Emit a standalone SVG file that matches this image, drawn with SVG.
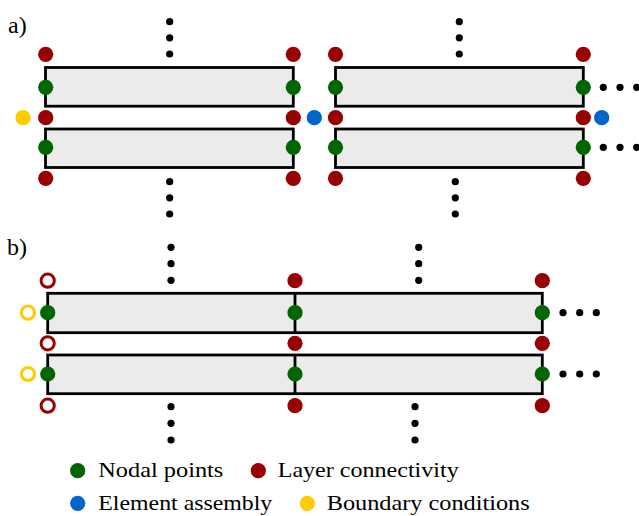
<svg xmlns="http://www.w3.org/2000/svg" width="639" height="516" viewBox="0 0 639 516">
<defs>
<style>
.el{fill:#ebebeb;stroke:#000;stroke-width:2.8}
.dv{fill:none;stroke:#000;stroke-width:2.8}
.g{fill:#006600}
.r{fill:#990000}
.b{fill:#0066cc}
.y{fill:#ffcc00}
.ro{fill:#fff;stroke:#990000;stroke-width:3}
.yo{fill:#fff;stroke:#ffcc00;stroke-width:3}
.d{fill:#000}
text{font-family:'Liberation Serif','Times New Roman','DejaVu Serif','Noto Serif',serif;fill:#000}
</style>
</defs>
<rect width="639" height="516" fill="#fff"/>
<text x="8" y="33" font-size="24">a)</text>
<text x="7" y="255" font-size="24">b)</text>

<g id="connectors">
<g class="d">
<circle cx="169.7" cy="21.7" r="3.6"/><circle cx="169.7" cy="37.8" r="3.6"/><circle cx="169.7" cy="54" r="3.6"/>
<circle cx="169.7" cy="181.7" r="3.6"/><circle cx="169.7" cy="197.8" r="3.6"/><circle cx="169.7" cy="214" r="3.6"/>
<circle cx="459.3" cy="21.7" r="3.6"/><circle cx="459.3" cy="37.8" r="3.6"/><circle cx="459.3" cy="54" r="3.6"/>
<circle cx="455.3" cy="181.7" r="3.6"/><circle cx="455.3" cy="197.8" r="3.6"/><circle cx="455.3" cy="214" r="3.6"/>
<circle cx="603.3" cy="87.3" r="3.6"/><circle cx="620" cy="87.3" r="3.6"/><circle cx="636.7" cy="87.3" r="3.6"/>
<circle cx="603.3" cy="147.3" r="3.6"/><circle cx="620" cy="147.3" r="3.6"/><circle cx="636.7" cy="147.3" r="3.6"/>
<circle cx="171" cy="247.3" r="3.6"/><circle cx="171" cy="263.7" r="3.6"/><circle cx="171" cy="280.3" r="3.6"/>
<circle cx="171" cy="406.7" r="3.6"/><circle cx="171" cy="423.3" r="3.6"/><circle cx="171" cy="440" r="3.6"/>
<circle cx="418.7" cy="247.3" r="3.6"/><circle cx="418.7" cy="263.7" r="3.6"/><circle cx="418.7" cy="280.3" r="3.6"/>
<circle cx="415" cy="406.7" r="3.6"/><circle cx="415" cy="423.3" r="3.6"/><circle cx="415" cy="440" r="3.6"/>
<circle cx="563" cy="312.7" r="3.6"/><circle cx="579.7" cy="312.7" r="3.6"/><circle cx="596.3" cy="312.7" r="3.6"/>
<circle cx="563" cy="374" r="3.6"/><circle cx="579.7" cy="374" r="3.6"/><circle cx="596.3" cy="374" r="3.6"/>
</g>
</g>

<g id="elemA1">
<rect class="el" x="45.5" y="67.5" width="247.8" height="38.7"/>
<rect class="el" x="45.5" y="129" width="247.8" height="38.5"/>
</g>
<g id="elemA2">
<rect class="el" x="335.5" y="67.5" width="247.8" height="38.7"/>
<rect class="el" x="335.5" y="129" width="247.8" height="38.5"/>
</g>
<g id="elemB">
<rect class="el" x="47.7" y="293.3" width="494.6" height="39.4"/>
<rect class="el" x="47.7" y="355" width="494.6" height="38.7"/>
<line class="dv" x1="295" y1="293.3" x2="295" y2="332.7"/>
<line class="dv" x1="295" y1="355" x2="295" y2="393.7"/>
</g>

<g id="nodesA">
<g class="r">
<circle cx="45.7" cy="54.3" r="7.6"/><circle cx="45.7" cy="117.7" r="7.6"/><circle cx="45.7" cy="178.3" r="7.6"/>
<circle cx="293.3" cy="54.3" r="7.6"/><circle cx="293.3" cy="117.7" r="7.6"/><circle cx="293.3" cy="178.3" r="7.6"/>
<circle cx="335.5" cy="54.3" r="7.6"/><circle cx="335.5" cy="117.7" r="7.6"/><circle cx="335.5" cy="178.3" r="7.6"/>
<circle cx="583.3" cy="54.3" r="7.6"/><circle cx="583.3" cy="117.7" r="7.6"/><circle cx="583.3" cy="178.3" r="7.6"/>
</g>
<g class="g">
<circle cx="45.7" cy="87.3" r="7.6"/><circle cx="45.7" cy="147.3" r="7.6"/>
<circle cx="293.3" cy="87.3" r="7.6"/><circle cx="293.3" cy="147.3" r="7.6"/>
<circle cx="335.5" cy="87.3" r="7.6"/><circle cx="335.5" cy="147.3" r="7.6"/>
<circle cx="583.3" cy="87.3" r="7.6"/><circle cx="583.3" cy="147.3" r="7.6"/>
</g>
<circle class="y" cx="23" cy="117.7" r="7.6"/>
<circle class="b" cx="314.3" cy="117.7" r="7.6"/>
<circle class="b" cx="601.7" cy="117.7" r="7.6"/>
</g>

<g id="nodesB">
<circle class="ro" cx="47.7" cy="280.7" r="6.6"/>
<circle class="ro" cx="47.7" cy="343.3" r="6.6"/>
<circle class="ro" cx="47.7" cy="405.7" r="6.6"/>
<circle class="yo" cx="28" cy="312.7" r="6.6"/>
<circle class="yo" cx="28" cy="374" r="6.6"/>
<g class="r">
<circle cx="295" cy="280.7" r="7.6"/><circle cx="295" cy="343.3" r="7.6"/><circle cx="295" cy="405.7" r="7.6"/>
<circle cx="542.3" cy="280.7" r="7.6"/><circle cx="542.3" cy="343.3" r="7.6"/><circle cx="542.3" cy="405.7" r="7.6"/>
</g>
<g class="g">
<circle cx="47.7" cy="312.7" r="7.6"/><circle cx="47.7" cy="374" r="7.6"/>
<circle cx="295" cy="312.7" r="7.6"/><circle cx="295" cy="374" r="7.6"/>
<circle cx="542.3" cy="312.7" r="7.6"/><circle cx="542.3" cy="374" r="7.6"/>
</g>
</g>

<g id="legend" font-size="21">
<circle class="g" cx="77.7" cy="470.7" r="7.6"/>
<text x="98.3" y="477.3" textLength="125" lengthAdjust="spacingAndGlyphs">Nodal points</text>
<circle class="r" cx="258.3" cy="470.7" r="7.6"/>
<text x="277.7" y="477.3" textLength="181" lengthAdjust="spacingAndGlyphs">Layer connectivity</text>
<circle class="b" cx="77.7" cy="503.3" r="7.6"/>
<text x="98.3" y="510.3" textLength="174" lengthAdjust="spacingAndGlyphs">Element assembly</text>
<circle class="y" cx="307.3" cy="503.3" r="7.6"/>
<text x="326.7" y="510.3" textLength="203" lengthAdjust="spacingAndGlyphs">Boundary conditions</text>
</g>
</svg>
